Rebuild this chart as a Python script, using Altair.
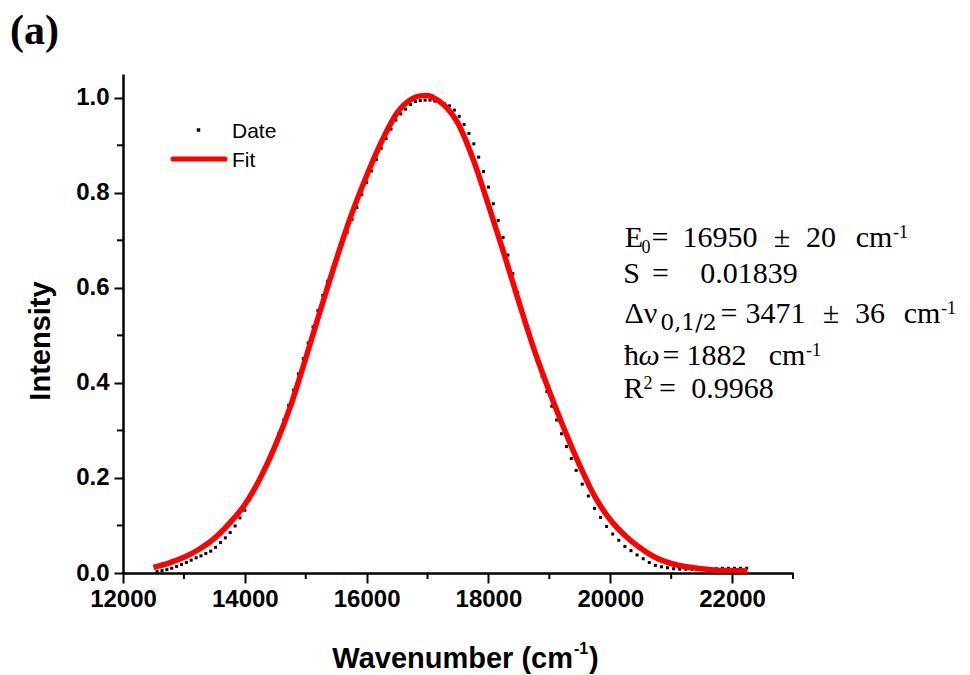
import altair as alt
import pandas as pd

# ---------------- data ----------------
fit_wn = [12500, 12750, 13000, 13250, 13500, 13750, 14000, 14250, 14500, 14750,
          15000, 15250, 15500, 15750, 16000, 16250, 16500, 16750, 16875, 17000,
          17125, 17250, 17500, 17750, 18000, 18250, 18500, 18750, 19000, 19250,
          19500, 19750, 20000, 20250, 20500, 20750, 21000, 21250, 21500, 21750,
          22000, 22250]
fit_I = [0.012, 0.021, 0.033, 0.050, 0.073, 0.105, 0.144, 0.199, 0.268, 0.351,
         0.452, 0.557, 0.659, 0.754, 0.836, 0.909, 0.968, 0.998, 1.004, 1.005,
         0.998, 0.987, 0.946, 0.870, 0.774, 0.674, 0.570, 0.470, 0.382, 0.301,
         0.226, 0.160, 0.112, 0.078, 0.052, 0.032, 0.020, 0.013, 0.009, 0.006,
         0.005, 0.004]

date_wn = [12560, 12640, 12720, 12800, 12880, 12960, 13040, 13120, 13200, 13280,
           13360, 13440, 13520, 13600, 13680, 13760, 13840, 13920, 14000, 14080,
           14160, 14240, 14320, 14400, 14480, 14560, 14640, 14720, 14800, 14880,
           14960, 15040, 15120, 15200, 15280, 15360, 15440, 15520, 15600, 15680,
           15760, 15840, 15920, 16000, 16080, 16160, 16240, 16320, 16400, 16480,
           16560, 16640, 16720, 16800, 16880, 16960, 17040, 17120, 17200, 17280,
           17360, 17440, 17520, 17600, 17680, 17760, 17840, 17920, 18000, 18080,
           18160, 18240, 18320, 18400, 18480, 18560, 18640, 18720, 18800, 18880,
           18960, 19040, 19120, 19200, 19280, 19360, 19440,
           19540, 19640, 19740, 19840, 19940, 20040, 20140, 20240, 20340, 20440,
           20540, 20640, 20740, 20840, 20940, 21040, 21140, 21240, 21340, 21440,
           21540, 21640, 21740, 21840, 21940, 22040, 22140, 22240]
date_I = [0.003, 0.005, 0.007, 0.010, 0.014, 0.018, 0.022, 0.027, 0.032, 0.036,
          0.041, 0.046, 0.054, 0.064, 0.074, 0.085, 0.099, 0.116, 0.132, 0.154,
          0.174, 0.193, 0.216, 0.240, 0.265, 0.293, 0.322, 0.353, 0.385, 0.419,
          0.451, 0.484, 0.518, 0.552, 0.584, 0.614, 0.642, 0.669, 0.692, 0.717,
          0.744, 0.769, 0.796, 0.822, 0.846, 0.870, 0.894, 0.914, 0.934, 0.953,
          0.966, 0.976, 0.986, 0.992, 0.994, 0.995, 0.995, 0.993, 0.990, 0.987,
          0.983, 0.974, 0.961, 0.944, 0.925, 0.903, 0.875, 0.845, 0.812, 0.777,
          0.742, 0.706, 0.669, 0.630, 0.590, 0.552, 0.516, 0.480, 0.446, 0.414,
          0.382, 0.351, 0.322, 0.293, 0.266, 0.241, 0.216,
          0.187, 0.162, 0.136, 0.117, 0.098, 0.082, 0.069, 0.056, 0.047, 0.038,
          0.030, 0.022, 0.016, 0.013, 0.011, 0.009, 0.008, 0.008, 0.008, 0.009,
          0.009, 0.009, 0.009, 0.010, 0.010, 0.010, 0.010, 0.010]

x_major = [12000, 14000, 16000, 18000, 20000, 22000]
x_minor = [13000, 15000, 17000, 19000, 21000, 23000]
y_major = [0.0, 0.2, 0.4, 0.6, 0.8, 1.0]
y_minor = [0.1, 0.3, 0.5, 0.7, 0.9]

fit_df = pd.DataFrame({"wn": fit_wn, "I": fit_I})
date_df = pd.DataFrame({"wn": date_wn, "I": date_I})
xminor_df = pd.DataFrame({"wn": x_minor})
yminor_df = pd.DataFrame({"I": y_minor})
one = pd.DataFrame({"a": [0]})

# ---------------- layout ----------------
OX, OY = 123, 74          # plot origin inside the 970x675 page
W, H = 670, 499

xs = alt.Scale(domain=[12000, 23000], nice=False, zero=False)
ys = alt.Scale(domain=[0, 1.05], nice=False, zero=False)

xaxis = alt.Axis(values=x_major, format="d", title=None, grid=False,
                 labelFont="Liberation Sans", labelFontWeight="bold", labelFontSize=24,
                 labelColor="black", labelPadding=4, labelOverlap=False, labelFlush=False,
                 tickSize=10, tickWidth=2, tickColor="black",
                 domainColor="black", domainWidth=2.5)
yaxis = alt.Axis(values=y_major, format=".1f", title=None, grid=False,
                 labelFont="Liberation Sans", labelFontWeight="bold", labelFontSize=24,
                 labelColor="black", labelPadding=5, labelOverlap=False, labelFlush=False,
                 tickSize=9, tickWidth=2, tickColor="black",
                 domainColor="black", domainWidth=2.5)

dots = alt.Chart(date_df).mark_square(size=9, color="black", opacity=1).encode(
    x=alt.X("wn:Q", scale=xs, axis=xaxis),
    y=alt.Y("I:Q", scale=ys, axis=yaxis),
)
fit = alt.Chart(fit_df).mark_line(color="#ff0000", strokeWidth=5.5, interpolate="monotone").encode(
    x=alt.X("wn:Q", scale=xs, axis=xaxis),
    y=alt.Y("I:Q", scale=ys, axis=yaxis),
)
xminor = alt.Chart(xminor_df).mark_rule(color="black", strokeWidth=2).encode(
    x=alt.X("wn:Q", scale=xs, axis=xaxis),
    y=alt.value(H), y2=alt.value(H + 6),
)
yminor = alt.Chart(yminor_df).mark_rule(color="black", strokeWidth=2).encode(
    y=alt.Y("I:Q", scale=ys, axis=yaxis),
    x=alt.value(-6), x2=alt.value(0),
)


def label(s, x, y, size, font="Liberation Serif", weight="normal", align="center",
          style="normal", angle=0, baseline="alphabetic"):
    kw = dict(text=s, font=font, fontSize=size, fontWeight=weight, align=align,
              baseline=baseline, fontStyle=style, color="black")
    if angle:
        kw["angle"] = angle
    return alt.Chart(one).mark_text(**kw).encode(x=alt.value(x - OX), y=alt.value(y - OY))


texts = []
# panel tag
texts.append(label("(a)", 10, 44, 42, weight="bold", align="left"))
# axis titles
texts.append(label("Intensity", 41, 341, 29, font="Liberation Sans", weight="bold",
                   angle=270, baseline="middle"))
texts.append(label("Wavenumber (cm", 573, 668, 29, font="Liberation Sans", weight="bold", align="right"))
texts.append(label("-1", 574, 654, 16, font="Liberation Sans", weight="bold", align="left"))
texts.append(label(")", 589, 668, 29, font="Liberation Sans", weight="bold", align="left"))
# legend
texts.append(label("Date", 232, 138, 21, font="Liberation Sans", align="left"))
texts.append(label("Fit", 232, 167, 21, font="Liberation Sans", align="left"))
legend_dot = alt.Chart(one).mark_square(size=12, color="black", opacity=1).encode(
    x=alt.value(198.5 - OX), y=alt.value(130 - OY))
legend_line = alt.Chart(one).mark_rule(color="#ff0000", strokeWidth=5, strokeCap="round").encode(
    x=alt.value(173 - OX), x2=alt.value(225 - OX), y=alt.value(159 - OY))

# fit parameters
S = 30
s = 18
ann = [
    ("E", 634, 247, S), ("0", 646, 253, s), ("=", 660, 247, S), ("16950", 720, 247, S),
    ("±", 782, 247, S), ("20", 821, 247, S), ("cm", 874, 247, S),
    ("S", 631.5, 283, S), ("=", 660.5, 283, S), ("0.01839", 749, 283, S),
    ("Δν", 641, 323, S), ("=", 729, 323, S), ("3471", 775.5, 323, S),
    ("±", 831, 323, S), ("36", 870, 323, S), ("cm", 922, 323, S),
    ("ħ", 631.5, 365, S), ("=", 671, 365, S), ("1882", 716.5, 365, S),
    ("cm", 787, 365, S),
    ("R", 633.5, 398, S), ("2", 648, 389, s), ("=", 667.5, 398, S), ("0.9968", 732.5, 398, S),
]
for t, x, y, fs in ann:
    texts.append(label(t, x, y, fs))
# superscripts right after "cm"
for x, y in [(893, 238), (941, 314), (806, 356)]:
    texts.append(label("-1", x, y, s, align="left"))
texts.append(label("ω", 649, 365, S, style="italic"))
texts.append(label("0,1/2", 688.5, 330, 22, font="DejaVu Serif"))

chart = alt.layer(dots, fit, xminor, yminor, legend_dot, legend_line, *texts).properties(
    width=W, height=H,
    autosize=alt.AutoSizeParams(type="none"),
    padding={"left": OX, "top": OY, "right": 970 - OX - W, "bottom": 675 - OY - H},
    background="white",
).configure_view(stroke=None)

chart.save("out.html", embed_options={"renderer": "svg", "actions": False})
